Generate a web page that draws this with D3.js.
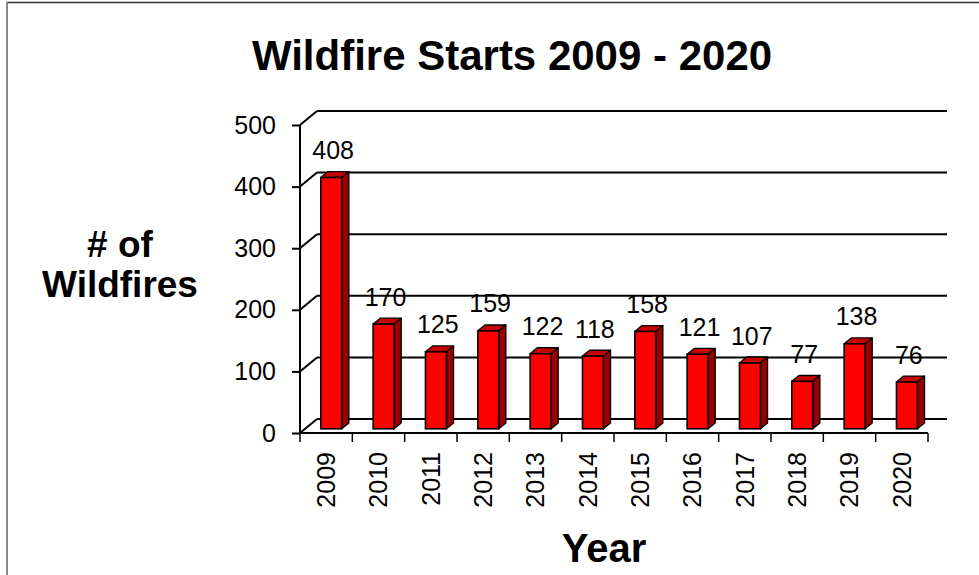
<!DOCTYPE html>
<html>
<head>
<meta charset="utf-8">
<script src="https://cdn.jsdelivr.net/npm/d3@7"></script>
<style>
  html, body { margin: 0; padding: 0; background: #fff; }
  svg { display: block; }
  text { font-family: "Liberation Sans", Arial, sans-serif; fill: #000; }
</style>
</head>
<body>
<svg id="chart" width="979" height="575"></svg>
<script>
const years = ["2009","2010","2011","2012","2013","2014","2015","2016","2017","2018","2019","2020"];
const wildfires = [408,170,125,159,122,118,158,121,107,77,138,76];
const yTicks = [0,100,200,300,400,500];
const titleText = "Wildfire Starts 2009 - 2020";
const yTitleLines = ["# of","Wildfires"];
const xTitleText = "Year";

const svg = d3.select("#chart");
const W = 979, H = 575;
const FONT = "'Liberation Sans', Arial, sans-serif";

// frame
svg.append("line").attr("x1",6).attr("x2",W).attr("y1",2.5).attr("y2",2.5)
  .attr("stroke","#333").attr("stroke-width",1.5);
svg.append("line").attr("x1",7).attr("x2",7).attr("y1",2).attr("y2",H)
  .attr("stroke","#888").attr("stroke-width",2);

const x = d3.scaleBand().domain(years).range([300, 928]).paddingInner(0).paddingOuter(0);
const y = d3.scaleLinear().domain([0,500]).range([433,125]);

// depth offset of back wall
const DX = 17, DY = -14;
const tFront = 0.3, tBack = 0.72;

// side wall & back wall gridlines
const g = svg.append("g");
yTicks.forEach(v => {
  const yy = y(v);
  g.append("line").attr("x1",300).attr("y1",yy).attr("x2",300+DX).attr("y2",yy+DY)
    .attr("stroke","#000").attr("stroke-width",2);
  g.append("line").attr("x1",300+DX).attr("y1",yy+DY).attr("x2",947).attr("y2",yy+DY)
    .attr("stroke","#000").attr("stroke-width",2);
});

// y axis
const yAxis = d3.axisLeft(y).tickValues(yTicks).tickSize(8).tickPadding(16);
const ya = svg.append("g").attr("transform","translate(300,0)").call(yAxis);
ya.select(".domain").attr("stroke","#000").attr("stroke-width",2).attr("d","M0,433V125");
ya.selectAll(".tick line").attr("stroke","#000").attr("stroke-width",2);
ya.selectAll(".tick text").style("font-size","25px").attr("fill","#000")
  .style("font-family",FONT);

// x axis
const xAxis = d3.axisBottom(x).tickSize(0).tickFormat(d => d);
const xa = svg.append("g").attr("transform","translate(0,433)").call(xAxis);
xa.select(".domain").attr("stroke","#000").attr("stroke-width",2).attr("d","M300,0H928");
xa.selectAll(".tick text")
  .style("font-size","25px").style("font-family",FONT)
  .attr("fill","#000")
  .attr("text-anchor","end")
  .attr("transform","rotate(-90)")
  .attr("x",-19).attr("y",0).attr("dy","0.35em");
// category boundary ticks
const bounds = years.map(d => x(d)).concat([x.range()[1]]);
xa.selectAll(".bound").data(bounds).join("line").attr("class","bound")
  .attr("x1",d=>d).attr("x2",d=>d).attr("y1",0).attr("y2",9)
  .attr("stroke","#000").attr("stroke-width",1.5);

// bars
const bw = x.bandwidth()*0.4;
const bars = svg.append("g");
years.forEach((yr,i) => {
  const v = wildfires[i];
  const x0 = x(yr) + (x.bandwidth()-bw)/2;
  const fx = x0 + DX*tFront, fy = DY*tFront;
  const bx = x0 + DX*tBack, by = DY*tBack;
  const top = y(v), bot = y(0);
  bars.append("path")
    .attr("d",`M${fx},${top+fy}L${bx},${top+by}L${bx+bw},${top+by}L${fx+bw},${top+fy}Z`)
    .attr("fill","#c80000").attr("stroke","#000").attr("stroke-width",1.3).attr("stroke-linejoin","round");
  bars.append("path")
    .attr("d",`M${fx+bw},${top+fy}L${bx+bw},${top+by}L${bx+bw},${bot+by}L${fx+bw},${bot+fy}Z`)
    .attr("fill","#9a0000").attr("stroke","#000").attr("stroke-width",1.3).attr("stroke-linejoin","round");
  bars.append("rect")
    .attr("x",fx).attr("y",top+fy).attr("width",bw).attr("height",bot-top)
    .attr("fill","#ff0000").attr("stroke","#000").attr("stroke-width",1.6);
  svg.append("text")
    .attr("x", x(yr) + x.bandwidth()/2 + 7)
    .attr("y", top + by - 12.5)
    .attr("text-anchor","middle")
    .style("font-size","25px")
    .text(v);
});

// titles
svg.append("text").attr("x",512).attr("y",70).attr("text-anchor","middle")
  .style("font-size","42px").style("font-weight","bold").text(titleText);
svg.selectAll(".ytitle").data(yTitleLines).join("text").attr("class","ytitle")
  .attr("x",120).attr("y",(d,i)=>257+i*40).attr("text-anchor","middle")
  .style("font-size","37px").style("font-weight","bold").text(d=>d);
svg.append("text").attr("x",604).attr("y",562).attr("text-anchor","middle")
  .style("font-size","40px").style("font-weight","bold").text(xTitleText);
</script>
</body>
</html>
